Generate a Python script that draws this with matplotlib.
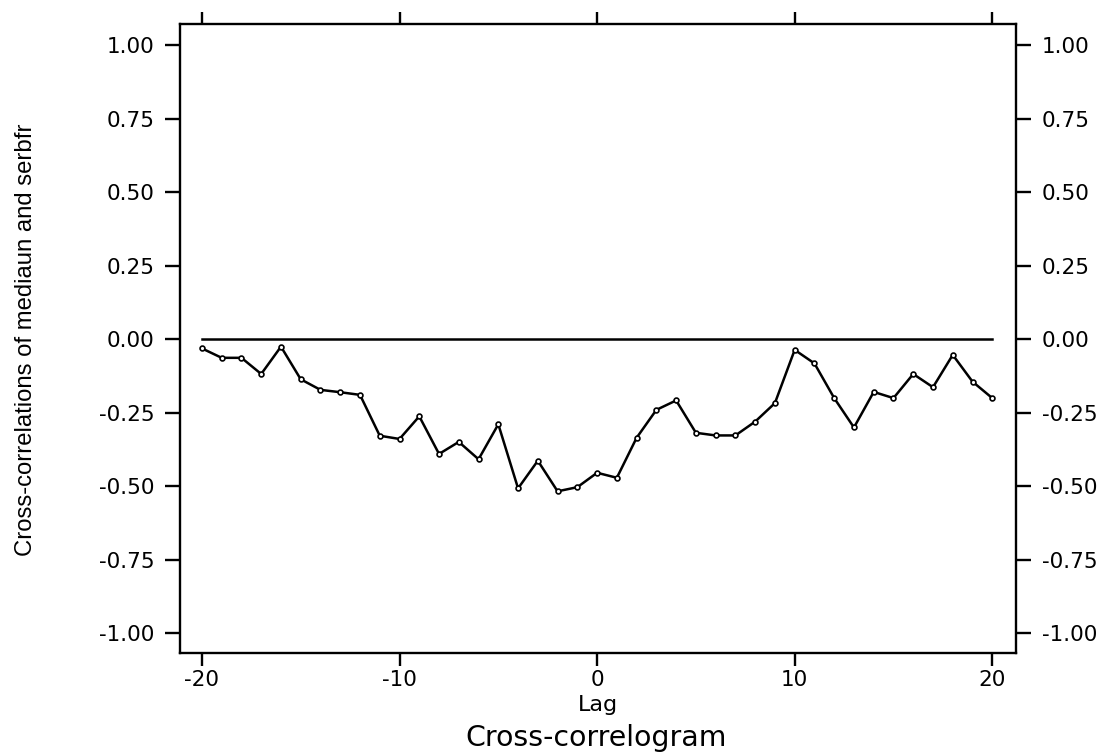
import matplotlib
matplotlib.use("Agg")
import matplotlib.pyplot as plt

# Lags and cross-correlations
lags = list(range(-20, 21))
ccf = [-0.032, -0.064, -0.064, -0.119, -0.026, -0.137, -0.173, -0.181, -0.190, -0.329,
       -0.340, -0.263, -0.391, -0.350, -0.409, -0.290, -0.508, -0.414, -0.518, -0.504,
       -0.455, -0.472, -0.336, -0.241, -0.209, -0.319, -0.328, -0.328, -0.281, -0.218,
       -0.037, -0.083, -0.201, -0.301, -0.180, -0.201, -0.119, -0.164, -0.054, -0.145,
       -0.201]
x_ticks = [-20, -10, 0, 10, 20]
y_ticks = [-1.0, -0.75, -0.5, -0.25, 0.0, 0.25, 0.5, 0.75, 1.0]

plt.rcParams["font.family"] = ["DejaVu Sans"]
plt.rcParams["axes.unicode_minus"] = False

fig = plt.figure(figsize=(11.03, 7.55), dpi=100)
ax = fig.add_axes([0.1632, 0.1351, 0.9211 - 0.1632, 0.9682 - 0.1351])

ax.plot([lags[0], lags[-1]], [0, 0], color="black", lw=1.8)
ax.plot(lags, ccf, color="black", lw=1.8, marker="o", markersize=3.5,
        markerfacecolor="white", markeredgewidth=1.2)

ax.set_xlim(-21.11, 21.2)
ax.set_ylim(-1.068, 1.0714)
ax.set_xticks(x_ticks)
ax.set_yticks(y_ticks)
ax.set_yticklabels([f"{v:.2f}" for v in y_ticks])

ax.tick_params(axis="x", direction="out", length=9, width=1.7, labelsize=15.5,
               top=True, pad=3.5)
ax.tick_params(axis="y", direction="out", length=11, width=1.7, labelsize=15.5,
               right=True, labelright=True, pad=7.5)
for s in ax.spines.values():
    s.set_linewidth(1.7)

ax.set_xlabel("Lag", fontsize=16, labelpad=3)
fig.text(0.024, 0.55, "Cross-correlations of mediaun and serbfr",
         family=["Liberation Sans", "DejaVu Sans"], fontsize=17.2,
         rotation=90, ha="center", va="center")
fig.text(0.5403, 0.012, "Cross-correlogram", fontsize=20.4, ha="center", va="baseline")

fig.savefig("out.png", dpi=100)
